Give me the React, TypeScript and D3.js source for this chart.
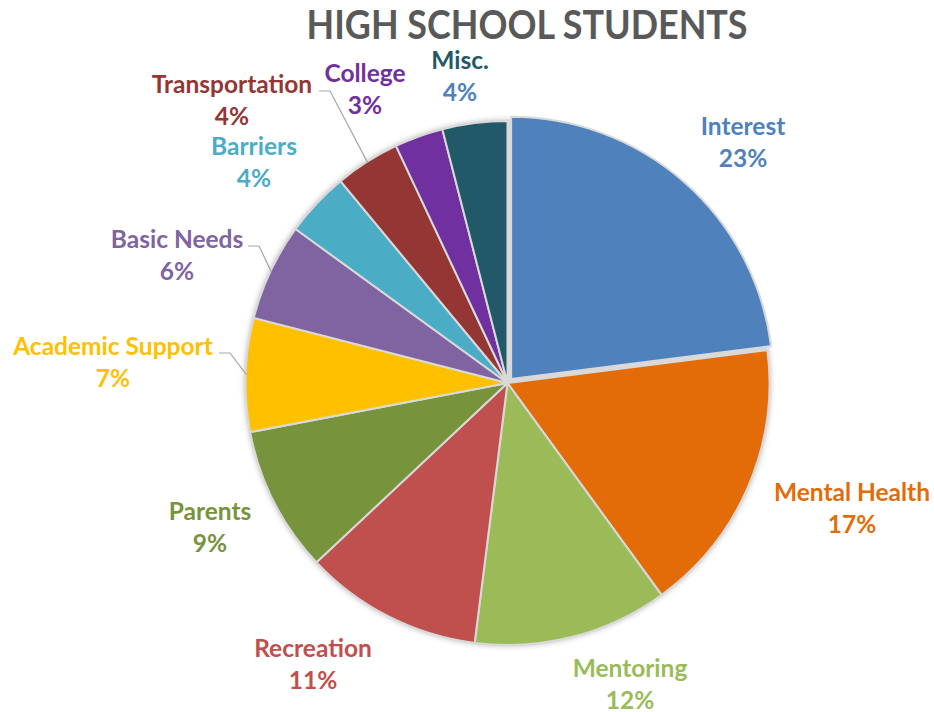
import React from "react";
import * as d3 from "d3";

const categories = ["Interest", "Mental Health", "Mentoring", "Recreation", "Parents", "Academic Support", "Basic Needs", "Barriers", "Transportation", "College", "Misc."];
const values = [23, 17, 12, 11, 9, 7, 6, 4, 4, 3, 4];
const colors = ["#4f81bd", "#e36c09", "#9bbb59", "#c0504d", "#77933c", "#ffc000", "#8064a2", "#4bacc6", "#943634", "#7030a0", "#215968"];
const pctColors = ["#4f81bd", "#e36c09", "#9bbb59", "#c0504d", "#77933c", "#ffc000", "#8064a2", "#4bacc6", "#943634", "#7030a0", "#4f81bd"];
const title = "HIGH SCHOOL STUDENTS";

// label layout (center x, first-line baseline y) — layout only
const labelPos: [number, number][] = [
  [743, 135], [852, 501], [630, 677], [313, 657], [210, 520], [113, 355], [177, 248], [254, 155], [232, 93], [365, 82], [460, 69],
];
// leader line start x (right end of label text)
const leaderStart: Record<number, number> = { 5: 219, 6: 248, 8: 319 };

export default function App() {
  const W = 934, H = 712;
  const cx = 507.5, cy = 383, r = 262;
  const pie = d3.pie<number>().sort(null).value((d) => d);
  const arcs = pie(values);
  const arc = d3.arc<d3.PieArcDatum<number>>().innerRadius(0).outerRadius(r);
  const font = "Lato, 'Open Sans', sans-serif";

  return (
    <svg width={W} height={H} style={{ position: "absolute", left: 0, top: 0, background: "#fff" }}>
      <defs>
        <filter id="sh" x="-20%" y="-20%" width="140%" height="140%">
          <feDropShadow dx="0" dy="0" stdDeviation="3" floodColor="#000" floodOpacity="0.35" />
        </filter>
      </defs>
      <text x={527} y={39} textAnchor="middle" fontFamily={font} fontWeight={700} fontSize={41} fill="#595959"
        textLength={441} lengthAdjust="spacingAndGlyphs">
        {title}
      </text>
      <g transform={`translate(${cx},${cy})`}>
        <circle r={r} fill="#d9d9d9" filter="url(#sh)" />
        {arcs.map((a, i) => {
          const mid = (a.startAngle + a.endAngle) / 2;
          const off = i === 0 ? 5.5 : 0;
          const dx = Math.sin(mid) * off, dy = -Math.cos(mid) * off;
          return (
            <path key={i} d={arc(a) || ""} transform={`translate(${dx},${dy})`} fill={colors[i]} stroke="#d9d9d9" strokeWidth={2} strokeLinejoin="round" />
          );
        })}
      </g>
      {arcs.map((a, i) => {
        const sx = leaderStart[i];
        if (sx === undefined) return null;
        const mid = (a.startAngle + a.endAngle) / 2;
        const ex = cx + Math.sin(mid) * (r - 1);
        const ey = cy - Math.cos(mid) * (r - 1);
        const sy = labelPos[i][1] - 2;
        return (
          <polyline key={"l" + i} points={`${sx},${sy} ${sx + 11},${sy} ${ex},${ey}`} fill="none" stroke="#a6a6a6" strokeWidth={1.2} />
        );
      })}
      {categories.map((c, i) => (
        <g key={"t" + i} fontFamily={font} fontWeight={700} fontSize={24.5} textAnchor="middle">
          <text x={labelPos[i][0]} y={labelPos[i][1]} fill={colors[i]}>{c}</text>
          <text x={labelPos[i][0]} y={labelPos[i][1] + 32} fill={pctColors[i]}>{values[i]}%</text>
        </g>
      ))}
    </svg>
  );
}
